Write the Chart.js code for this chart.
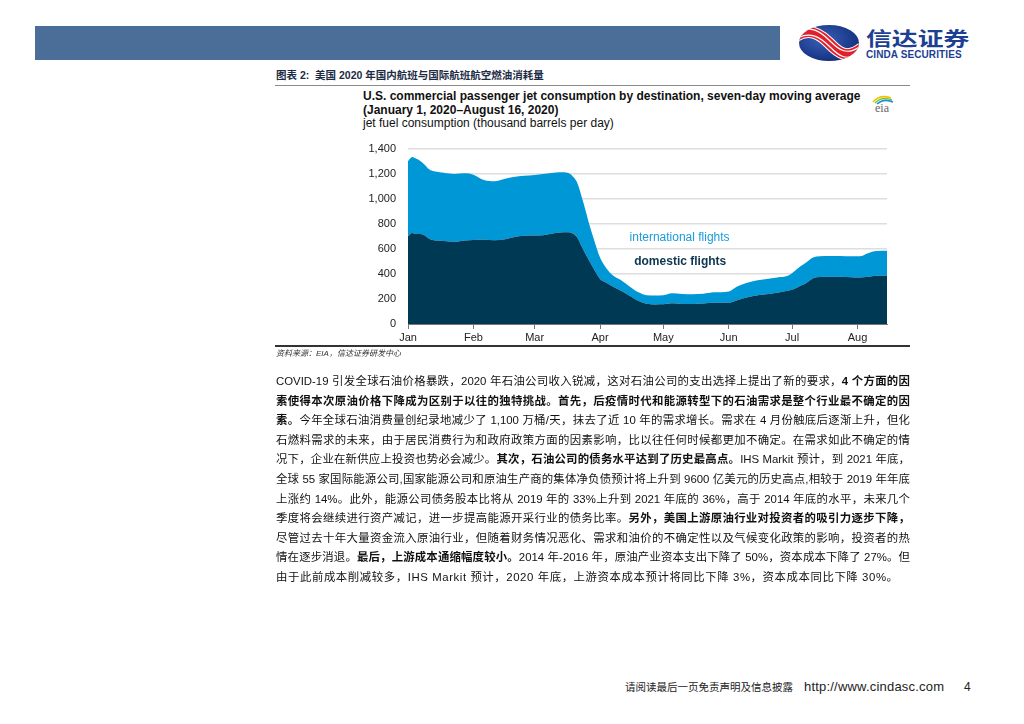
<!DOCTYPE html>
<html>
<head>
<meta charset="utf-8">
<script src="https://cdn.jsdelivr.net/npm/chart.js@4.4.0/dist/chart.umd.min.js"></script>
<style>
  body { margin: 0; background: #fff; width: 1024px; height: 724px; position: relative; overflow: hidden;
         font-family: "Liberation Sans", "Noto Sans CJK SC", sans-serif; color: #111; }
  .abs { position: absolute; }
  #bar { left: 35px; top: 26px; width: 745px; height: 34px; background: #4a6e97; }
  #logoCn { left: 866px; top: 28px; font: bold 19px "Noto Sans CJK SC"; color: #1d3f93; line-height: 20px; height: 20px;
            transform: scaleX(1.36); transform-origin: left top; white-space: nowrap; }
  #logoEn { left: 866px; top: 50px; font: bold 10px "Liberation Sans"; color: #1d3f93; letter-spacing: 0.1px; line-height: 10px; white-space: nowrap; }
  #figTitle { left: 276px; top: 68px; font-size: 10.5px; line-height: 14px; font-weight: bold; color: #1c2b45; }
  #rule1 { left: 275px; top: 85px; width: 635px; height: 1px; background: #8a8a8a; }
  #ct { left: 363px; top: 90px; font-size: 12px; line-height: 13.5px; color: #111; white-space: nowrap; }
  #chartBox { left: 330px; top: 130px; width: 562px; height: 220px; }
  #rule2 { left: 275px; top: 345px; width: 635px; height: 1.5px; background: #333; }
  #src { left: 276px; top: 348px; font-size: 8px; line-height: 12px; font-style: italic; color: #333; }
  #body { left: 276px; top: 372px; width: 634px; font-size: 11.4px; line-height: 19.6px; }
  .ln { text-align: justify; text-align-last: justify; height: 19.6px; }
  #body .ln:last-child { text-align-last: left; letter-spacing: 0.58px; }
  #foot { left: 625px; top: 680px; font-size: 10.5px; line-height: 14px; color: #222; white-space: nowrap; }
  #foot .url { font-size: 13px; letter-spacing: 0.2px; margin-left: 11px; }
  #pageNo { left: 964px; top: 680px; font-size: 12px; line-height: 14px; color: #222; }
</style>
</head>
<body>
<div id="bar" class="abs"></div>

<svg class="abs" style="left:798px;top:24px" width="62" height="38" viewBox="0 0 62 38">
  <defs>
    <radialGradient id="lg" cx="40%" cy="40%" r="70%">
      <stop offset="0" stop-color="#3b60b8"/>
      <stop offset="1" stop-color="#0e2a78"/>
    </radialGradient>
    <clipPath id="ec"><ellipse cx="31" cy="19" rx="30" ry="18"/></clipPath>
  </defs>
  <ellipse cx="31" cy="19" rx="30" ry="18" fill="url(#lg)"/>
  <g fill="none" clip-path="url(#ec)">
    <path d="M-2,12 C12,3 23,11 31,19 S48,37 64,24" stroke="#fff" stroke-width="12"/>
    <path d="M-2,12 C12,3 23,11 31,19 S48,37 64,24" stroke="#e0202a" stroke-width="10"/>
    <path d="M-2,9 C12,0 23,8 31,16 S48,34 64,21" stroke="#fff" stroke-width="1.2"/>
    <path d="M-2,15 C12,6 23,14 31,22 S48,40 64,27" stroke="#fff" stroke-width="1.2"/>
  </g>
</svg>
<div id="logoCn" class="abs">信达证券</div>
<div id="logoEn" class="abs">CINDA SECURITIES</div>

<div id="figTitle" class="abs">图表 2:&nbsp; 美国 2020 年国内航班与国际航班航空燃油消耗量</div>
<div id="rule1" class="abs"></div>

<div id="ct" class="abs">
  <b>U.S. commercial passenger jet consumption by destination, seven-day moving average</b><br>
  <b>(January 1, 2020–August 16, 2020)</b><br>
  jet fuel consumption (thousand barrels per day)
</div>

<svg class="abs" style="left:867px;top:92px" width="30" height="22" viewBox="0 0 30 22">
  <path d="M6,10 Q13,2 24,6" stroke="#f2c500" stroke-width="1.6" fill="none"/>
  <path d="M8,11 Q15,4 25,8" stroke="#7cc242" stroke-width="1.6" fill="none"/>
  <path d="M10,12 Q17,6 26,10" stroke="#1a8fd0" stroke-width="1.6" fill="none"/>
  <text x="15" y="20" font-family="Liberation Serif, serif" font-size="12" fill="#666" text-anchor="middle">eia</text>
</svg>

<div id="chartBox" class="abs"><canvas id="myChart"></canvas></div>
<div id="rule2" class="abs"></div>
<div id="src" class="abs">资料来源：EIA，信达证券研发中心</div>

<div id="body" class="abs">
  <div class="ln">COVID-19 引发全球石油价格暴跌，2020 年石油公司收入锐减，这对石油公司的支出选择上提出了新的要求，<b>4 个方面的因</b></div>
  <div class="ln"><b>素使得本次原油价格下降成为区别于以往的独特挑战。首先，后疫情时代和能源转型下的石油需求是整个行业最不确定的因</b></div>
  <div class="ln"><b>素。</b>今年全球石油消费量创纪录地减少了 1,100 万桶/天，抹去了近 10 年的需求增长。需求在 4 月份触底后逐渐上升，但化</div>
  <div class="ln">石燃料需求的未来，由于居民消费行为和政府政策方面的因素影响，比以往任何时候都更加不确定。在需求如此不确定的情</div>
  <div class="ln">况下，企业在新供应上投资也势必会减少。<b>其次，石油公司的债务水平达到了历史最高点。</b>IHS Markit 预计，到 2021 年底，</div>
  <div class="ln">全球 55 家国际能源公司,国家能源公司和原油生产商的集体净负债预计将上升到 9600 亿美元的历史高点,相较于 2019 年年底</div>
  <div class="ln">上涨约 14%。此外，能源公司债务股本比将从 2019 年的 33%上升到 2021 年底的 36%，高于 2014 年底的水平，未来几个</div>
  <div class="ln">季度将会继续进行资产减记，进一步提高能源开采行业的债务比率。<b>另外，美国上游原油行业对投资者的吸引力逐步下降，</b></div>
  <div class="ln">尽管过去十年大量资金流入原油行业，但随着财务情况恶化、需求和油价的不确定性以及气候变化政策的影响，投资者的热</div>
  <div class="ln">情在逐步消退。<b>最后，上游成本通缩幅度较小。</b>2014 年-2016 年，原油产业资本支出下降了 50%，资本成本下降了 27%。但</div>
  <div class="ln">由于此前成本削减较多，IHS Markit 预计，2020 年底，上游资本成本预计将同比下降 3%，资本成本同比下降 30%。</div>
</div>

<div id="foot" class="abs">请阅读最后一页免责声明及信息披露<span class="url">http://www.cindasc.com</span></div>
<div id="pageNo" class="abs">4</div>

<script>
// days since Jan 1 2020
const days = [0,2,4,6,8,10,13,17,22,27,31,36,41,46,50,55,60,64,68,72,76,78,80,83,86,88,91,94,97,101,105,109,113,117,121,125,130,135,140,145,152,156,160,165,170,175,180,183,186,189,192,195,200,205,210,214,218,222,227];
// thousand barrels per day
const domestic = [700,727,719,719,706,680,666,662,656,667,670,672,668,676,692,704,706,708,720,730,732,722,695,595,500,440,360,330,300,265,225,185,162,156,157,165,160,160,164,170,170,190,210,228,238,250,265,280,305,330,365,375,378,378,374,371,378,386,386];
const international = [600,605,599,581,564,556,552,546,542,536,522,478,472,484,481,479,484,490,486,482,473,458,440,380,290,240,170,115,90,85,75,70,68,72,73,81,80,78,78,83,90,110,115,120,122,122,120,140,155,165,165,165,164,165,166,169,187,196,199];

const monthDays = [0,31,60,91,121,152,182,213];
const monthLabels = ['Jan','Feb','Mar','Apr','May','Jun','Jul','Aug'];
const yTicks = [0,200,400,600,800,1000,1200,1400];

const areaLabels = {
  id: 'areaLabels',
  afterDatasetsDraw(chart, args, opts) {
    const { ctx, scales: { x, y } } = chart;
    ctx.save();
    ctx.textAlign = 'center';
    ctx.textBaseline = 'middle';
    opts.items.forEach(it => {
      ctx.font = it.font;
      ctx.fillStyle = it.color;
      ctx.fillText(it.text, x.getPixelForValue(it.x), y.getPixelForValue(it.y));
    });
    ctx.restore();
  }
};

Chart.defaults.font.family = "'Liberation Sans', Arial, sans-serif";
Chart.defaults.color = '#222';

const ctx = document.getElementById('myChart').getContext('2d');

const myChart = new Chart(ctx, {
  type: 'line',
  data: {
    datasets: [{
      label: 'domestic flights',
      data: days.map((d, i) => ({ x: d, y: domestic[i] })),
      fill: 'origin',
      backgroundColor: '#003953',
      borderWidth: 0,
      pointRadius: 0,
      cubicInterpolationMode: 'monotone'
    }, {
      label: 'international flights',
      data: days.map((d, i) => ({ x: d, y: international[i] })),
      fill: '-1',
      backgroundColor: '#0097d7',
      borderWidth: 0,
      pointRadius: 0,
      cubicInterpolationMode: 'monotone'
    }]
  },
  plugins: [areaLabels],
  options: {
    responsive: true,
    maintainAspectRatio: false,
    animation: false,
    layout: { padding: { top: 9, right: 5, left: 0, bottom: 0 } },
    plugins: {
      legend: { display: false },
      tooltip: { enabled: false },
      areaLabels: {
        items: [
          { text: 'international flights', x: 128.7, y: 689, color: '#1a9bd7', font: '12px "Liberation Sans"' },
          { text: 'domestic flights', x: 129, y: 500, color: '#0d3550', font: 'bold 12px "Liberation Sans"' }
        ]
      }
    },
    scales: {
      x: {
        type: 'linear',
        min: 0,
        max: 227,
        grid: { drawOnChartArea: false, drawTicks: true, tickLength: 5, color: '#777' },
        border: { display: true, color: '#777', width: 1 },
        afterBuildTicks: s => { s.ticks = monthDays.map(v => ({ value: v })); },
        afterFit: s => { s.height = 26; },
        ticks: {
          font: { size: 11 },
          padding: 2,
          maxRotation: 0,
          autoSkip: false,
          callback: v => monthLabels[monthDays.indexOf(v)]
        }
      },
      y: {
        stacked: true,
        min: 0,
        max: 1400,
        grid: { color: '#dedede', lineWidth: 1.5, drawTicks: false },
        border: { display: false },
        afterBuildTicks: s => { s.ticks = yTicks.map(v => ({ value: v })); },
        afterFit: s => { s.width = 78; },
        ticks: {
          font: { size: 11 },
          padding: 12,
          callback: v => v.toLocaleString('en-US')
        }
      }
    }
  }
});
</script>
</body>
</html>
